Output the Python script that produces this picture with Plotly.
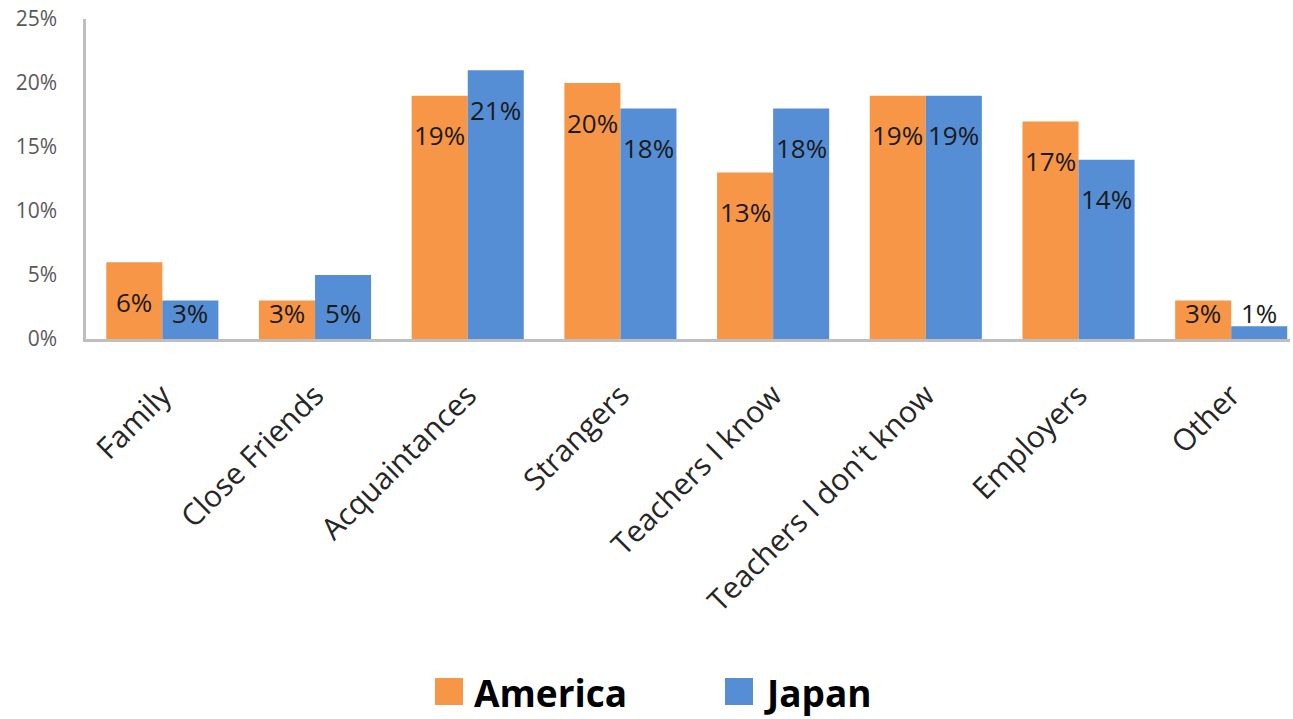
import plotly.graph_objects as go

# Survey results: who respondents feel comfortable approaching (% of answers)
categories = ["Family", "Close Friends", "Acquaintances", "Strangers",
              "Teachers I know", "Teachers I don't know", "Employers", "Other"]
america = [6, 3, 19, 20, 13, 19, 17, 3]
japan = [3, 5, 21, 18, 18, 19, 14, 1]
series_names = ["America", "Japan"]
y_ticks = [0, 5, 10, 15, 20, 25]

ORANGE = "#F79646"
BLUE = "#558ED5"
FONT = "Open Sans"

W, H = 1293, 719
M = dict(l=86, r=3, t=19, b=380)
BARGAP = 0.266
X_RANGE = [-0.5, 7.385]  # last category runs past the right edge
LABEL_DROP = 3.1   # labels sit a little below the bar top (in % units)
LABEL_FLOOR = 2.0  # but never lower than this

fig = go.Figure()
for name, vals, col in [(series_names[0], america, ORANGE), (series_names[1], japan, BLUE)]:
    fig.add_trace(go.Bar(x=categories, y=vals, name=name, marker=dict(color=col, line=dict(width=0)),
                         showlegend=False, cliponaxis=True))

# value labels placed inside each bar, centred on the bar
half = (1 - BARGAP) / 2
for s, vals in enumerate([america, japan]):
    for i, v in enumerate(vals):
        xpos = i - half / 2 if s == 0 else i + half / 2
        fig.add_annotation(x=xpos, y=max(v - LABEL_DROP, LABEL_FLOOR), text=f"{v}%",
                           showarrow=False, xref="x", yref="y", yanchor="middle",
                           font=dict(family=FONT, size=26, color="#1a1a1a"))

# custom legend below the chart
pw = W - M["l"] - M["r"]
ph = H - M["t"] - M["b"]
def px_x(p):
    return (p - M["l"]) / pw
def px_y(p):
    return (H - M["b"] - p) / ph

legend_items = [(series_names[0], ORANGE, 435), (series_names[1], BLUE, 725)]
for name, col, x0 in legend_items:
    fig.add_shape(type="rect", xref="paper", yref="paper",
                  x0=px_x(x0), x1=px_x(x0 + 28), y0=px_y(705), y1=px_y(678),
                  fillcolor=col, line=dict(width=0))
    fig.add_annotation(xref="paper", yref="paper", x=px_x(x0 + 37), y=px_y(692),
                       xanchor="left", yanchor="middle", showarrow=False,
                       text=f"<b>{name}</b>", font=dict(family=FONT, size=37, color="#000000"))

fig.update_layout(
    width=W, height=H,
    margin=M,
    barmode="group", bargap=BARGAP, bargroupgap=0,
    plot_bgcolor="white", paper_bgcolor="white",
    showlegend=False,
    xaxis=dict(type="category", range=X_RANGE, showgrid=False, showline=True,
               linecolor="#BFBFBF", linewidth=2.5,
               ticks="", tickangle=-45, ticklabelstandoff=24,
               tickfont=dict(family=FONT, size=30, color="#262626")),
    yaxis=dict(range=[0, 25], tickvals=y_ticks, ticktext=[f"{t}%" for t in y_ticks],
               showgrid=False, zeroline=False, showline=True, linecolor="#BFBFBF", linewidth=2.5,
               ticks="", ticklabelstandoff=22,
               tickfont=dict(family=FONT, size=21, color="#595959")),
)

fig.write_html("out.html")
